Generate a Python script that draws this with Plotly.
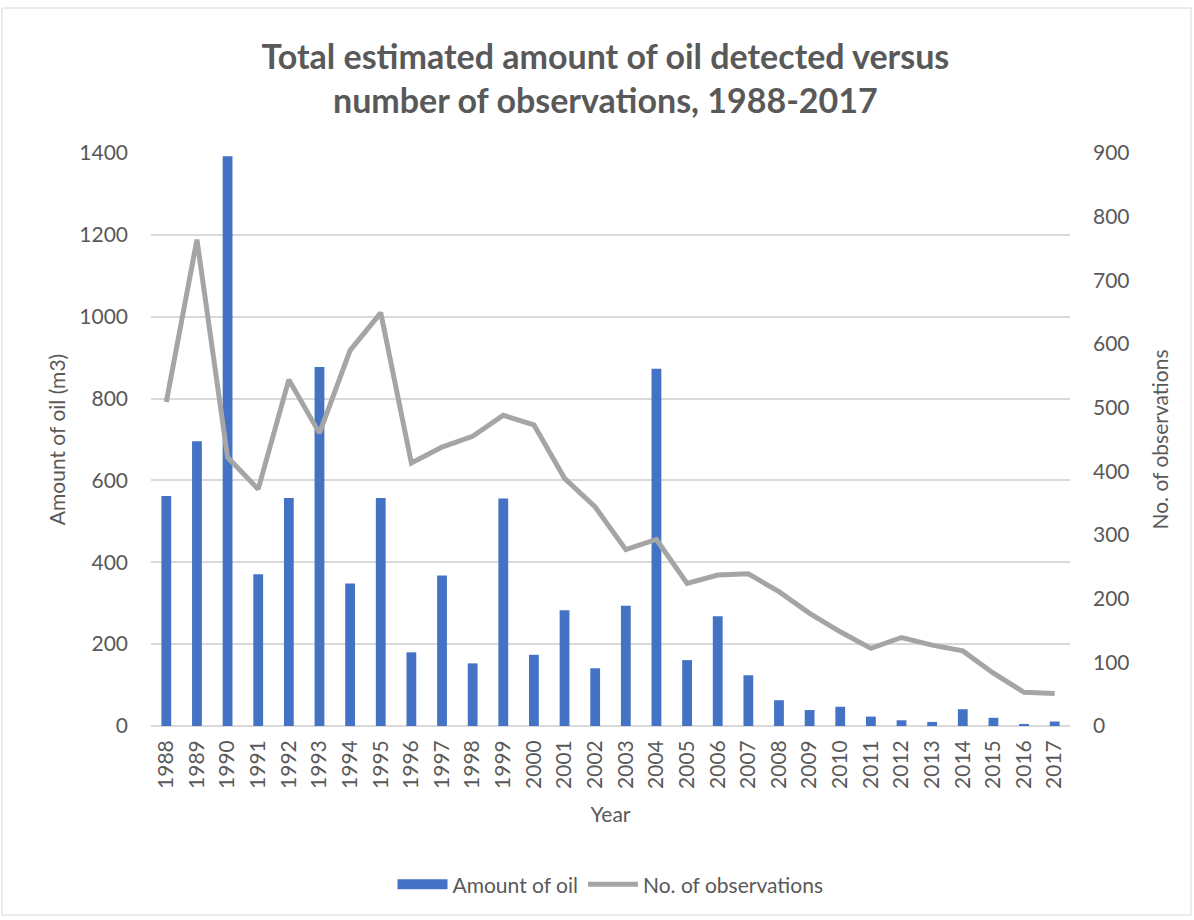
import plotly.graph_objects as go

years = [str(y) for y in range(1988, 2018)]
oil_amount = [562, 696, 1392, 371, 557, 877, 348, 557, 180, 368,
              153, 556, 174, 283, 141, 294, 873, 161, 268, 124,
              63, 39, 47, 23, 14, 10, 41, 20, 5, 11]
observations = [509, 764, 422, 372, 544, 460, 590, 649, 413, 438,
                455, 488, 473, 389, 344, 277, 293, 224, 237, 239,
                211, 177, 148, 122, 139, 127, 118, 83, 53, 51]

TEXT = "#595959"
GRID = "#D9D9D9"
BLUE = "#4472C4"
GREY = "#A5A5A5"
FONT = "Lato, Carlito, Calibri, sans-serif"

W, H = 1194, 920
ML, MR, MT, MB = 151, 124, 153, 194
pw, ph = W - ML - MR, H - MT - MB

fig = go.Figure()
fig.add_trace(go.Bar(x=years, y=oil_amount, name="Amount of oil",
                     marker=dict(color=BLUE, line=dict(width=0)),
                     yaxis="y", showlegend=False))
# legend swatch for the bars: a wide filled rectangle
fig.add_trace(go.Scatter(x=[None], y=[None], name="Amount of oil", mode="lines",
                         line=dict(color=BLUE, width=14), showlegend=True))
fig.add_trace(go.Scatter(x=years, y=observations, name="No. of observations",
                         mode="lines", line=dict(color=GREY, width=5),
                         yaxis="y2"))

# outer chart frame in paper coordinates
fig.add_shape(type="rect", xref="paper", yref="paper",
              x0=(2 - ML) / pw, x1=(1191 - ML) / pw,
              y0=-(MB - 5) / ph, y1=1 + (MT - 8) / ph,
              line=dict(color="#D9D9D9", width=1), layer="below")

fig.update_layout(
    width=W, height=H,
    margin=dict(l=ML, r=MR, t=MT, b=MB),
    paper_bgcolor="white", plot_bgcolor="white",
    font=dict(family=FONT, color=TEXT, size=21),
    title=dict(text="<b>Total estimated amount of oil detected versus<br>number of observations, 1988-2017</b>",
               x=0.507, xanchor="center", yref="container", y=0.925, yanchor="middle",
               font=dict(family=FONT, size=34, color=TEXT)),
    bargap=0.68,
    showlegend=True,
    legend=dict(orientation="h", x=0.5, xanchor="center", y=-0.277, yanchor="middle",
                font=dict(size=21, color=TEXT), itemwidth=50, traceorder="normal"),
    xaxis=dict(title=dict(text="Year", font=dict(size=21, color=TEXT), standoff=19),
               tickangle=-90, showgrid=False, showline=False, ticks="",
               ticklabelstandoff=9,
               tickfont=dict(size=21, color=TEXT), type="category"),
    yaxis=dict(title=dict(text="Amount of oil (m3)", font=dict(size=21, color=TEXT), standoff=7),
               range=[0, 1400], dtick=200, showgrid=True, gridcolor=GRID, gridwidth=1.5,
               zeroline=True, zerolinecolor=GRID, zerolinewidth=1.5, showline=False,
               ticks="", ticklabelstandoff=22, tickfont=dict(size=21, color=TEXT)),
    yaxis2=dict(title=dict(text="No. of observations", font=dict(size=21, color=TEXT), standoff=24),
                range=[0, 900], dtick=100, overlaying="y", side="right",
                showgrid=False, zeroline=False, showline=False, ticks="",
                ticklabelstandoff=22, tickfont=dict(size=21, color=TEXT)),
)

fig.write_html("out.html")
